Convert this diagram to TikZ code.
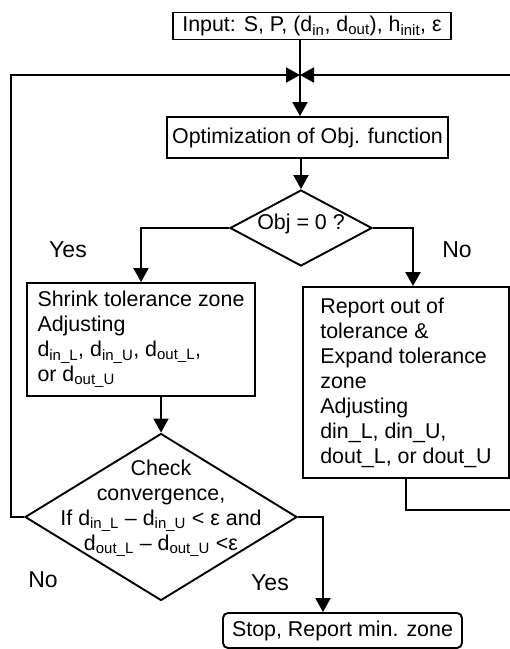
\documentclass[tikz,border=0pt]{standalone}
\usepackage{fontspec}
\setmainfont{Liberation Sans}
\usetikzlibrary{arrows.meta}
\usetikzlibrary{shapes.geometric}
\newcommand{\sbs}[1]{\textsubscript{#1}}

\begin{document}
\begin{tikzpicture}[x=1pt, y=-1pt, line width=1.9pt,
			every node/.style={font=\fontsize{21.4}{25}\selectfont},
			box/.style={draw, rectangle, align=left, inner sep=0pt},
			decision/.style={draw, diamond, inner sep=0pt},
			answer/.style={font=\fontsize{23}{25}\selectfont},
			arr/.style={-{Triangle[length=14pt, width=15pt]}}]
			\useasboundingbox (0,0) rectangle (510,649);
			\node (input) at (312,26) [box, minimum width=278, minimum height=27] {Input: S, P, (d\sbs{in}, d\sbs{out}), h\sbs{init}, ε};
			\coordinate (j) at (300,75);
			\node (opt) at (307.5,137.5) [box, minimum width=281, minimum height=41] {Optimization of Obj. function};
			\node (obj) at (301,228) [decision, minimum width=142, minimum height=76, label={[yshift=4pt]center:Obj = 0 ?}] {};
			\node (shrink) at (141,339.5) [box, minimum width=228, minimum height=113] {Shrink tolerance zone\\Adjusting\\d\sbs{in\_L}, d\sbs{in\_U}, d\sbs{out\_L},\\or d\sbs{out\_U}};
			\node (report) at (406,382.5) [box, minimum width=206, minimum height=191] {Report out of\\tolerance \&\\Expand tolerance\\zone\\Adjusting\\din\_L, din\_U,\\dout\_L, or dout\_U};
			\node (check) at (161,517) [decision, minimum width=272, minimum height=167, label={[align=center, yshift=9pt]center:Check\\convergence,\\If d\sbs{in\_L} – d\sbs{in\_U} < ε and\\d\sbs{out\_L} – d\sbs{out\_U} <ε}] {};
			\node (stop) at (342.5,630.5) [box, rounded corners=5pt, minimum width=239, minimum height=35] {Stop, Report min. zone};
			% the right return line runs just outside the page
			\coordinate (rc) at (516,510);
			\node (yes1) at (68,250) [answer] {Yes};
			\node (no1) at (457,250) [answer] {No};
			\node (no2) at (43,580) [answer] {No};
			\node (yes2) at (270,583) [answer] {Yes};
			\draw[arr] (input.south -| j) -- (opt.north -| j);
			\draw[arr] (opt.south -| obj) -- (obj.north);
			\draw[arr] (obj.west) -| (shrink.north);
			\draw[arr] (obj.east) -| ([xshift=7pt]report.north);
			\draw[arr] (shrink.south -| check.north) -- (check.north);
			\draw[arr] (check.west) -- ++(-13,0) |- (j);
			\draw[arr] (report.south) |- (rc) |- (j);
			\draw[arr] (check.east) -| ([xshift=-19.5pt]stop.north);
		\end{tikzpicture}
\end{document}
